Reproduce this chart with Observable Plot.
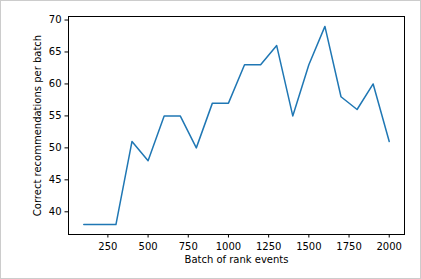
<!DOCTYPE html>
<html>
<head>
<meta charset="utf-8">
<script src="https://cdn.jsdelivr.net/npm/d3@7"></script>
<script src="https://cdn.jsdelivr.net/npm/@observablehq/plot@0.6"></script>
<style>
  html, body { margin: 0; padding: 0; background: #fff; }
  #wrap { position: relative; width: 421px; height: 279px; overflow: hidden; }
  #border { position: absolute; left: 0; top: 0; width: 421px; height: 279px; box-sizing: border-box; border: 1px solid #cccccc; pointer-events: none; }
</style>
</head>
<body>
<div id="wrap"><div id="border"></div></div>
<script>
const batches = [100, 200, 300, 400, 500, 600, 700, 800, 900, 1000, 1100, 1200, 1300, 1400, 1500, 1600, 1700, 1800, 1900, 2000];
const correct = [38, 38, 38, 51, 48, 55, 55, 50, 57, 57, 63, 63, 66, 55, 63, 69, 58, 56, 60, 51];
const xTicks = [250, 500, 750, 1000, 1250, 1500, 1750, 2000];
const yTicks = [40, 45, 50, 55, 60, 65, 70];
const xLabel = "Batch of rank events";
const yLabel = "Correct recommendations per batch";

const data = batches.map((b, i) => ({batch: b, correct: correct[i]}));

const chart = Plot.plot({
  width: 421,
  height: 279,
  marginLeft: 68,
  marginRight: 17,
  marginTop: 16,
  marginBottom: 45,
  style: {fontFamily: "DejaVu Sans", fontSize: "10px", color: "#000", background: "transparent"},
  x: {domain: [5, 2095]},
  y: {domain: [36.45, 70.55]},
  marks: [
    Plot.axisX({ticks: xTicks, tickSize: 3.5, tickPadding: 5, tickFormat: d => String(d), fontSize: 10,
      label: xLabel, labelAnchor: "center", labelArrow: "none", labelOffset: 28}),
    Plot.axisY({ticks: yTicks, tickSize: 3.5, tickPadding: 3.5, tickFormat: d => String(d), fontSize: 10,
      label: yLabel, labelAnchor: "center", labelArrow: "none", labelOffset: 35}),
    Plot.line(data, {x: "batch", y: "correct", stroke: "#1f77b4", strokeWidth: 1.5}),
    Plot.frame({stroke: "#000", strokeWidth: 1})
  ]
});
document.getElementById("wrap").prepend(chart);
</script>
</body>
</html>
